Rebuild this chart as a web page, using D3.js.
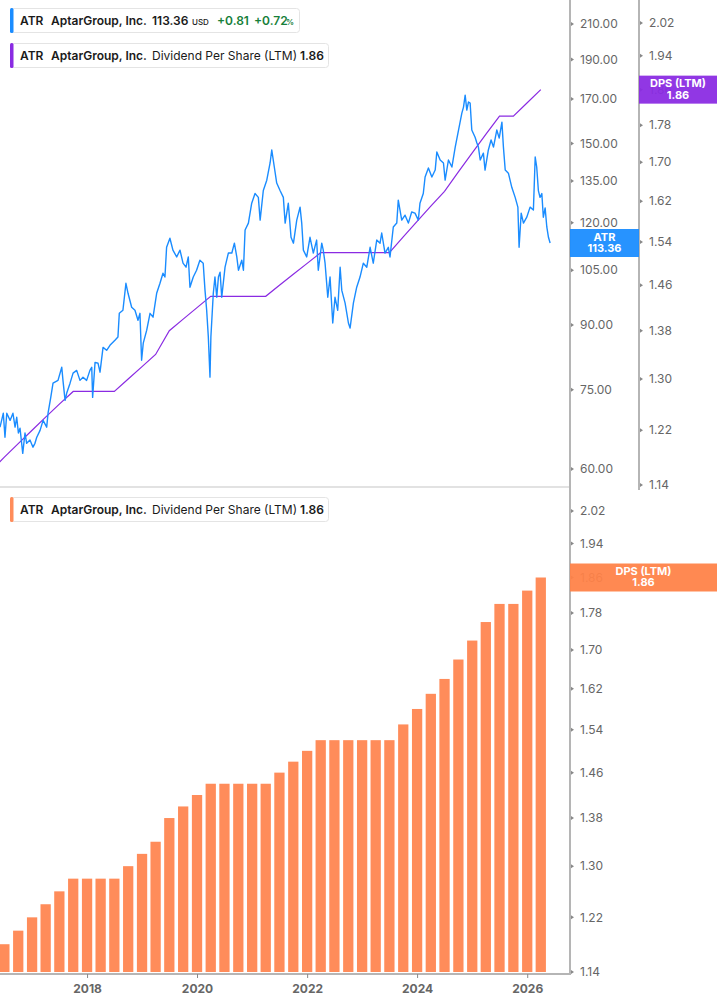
<!DOCTYPE html>
<html>
<head>
	<title>ATR price and dividend</title>
	<script src="https://d3js.org/d3.v7.min.js" charset="utf-8"></script>
	<style>
		body { margin: 0; background: #fff; }
		text { font-family: Inter, "Noto Sans", sans-serif; }
	</style>
</head>
<body>
	<svg width="717" height="1005"></svg>
	<script>
		// ATR daily-ish closes
		const priceDates = [
			'2016-06-02','2016-06-24','2016-07-05','2016-07-17','2016-08-08','2016-08-27','2016-09-10','2016-09-21','2016-10-02','2016-10-13',
			'2016-10-31','2016-11-15','2016-11-26','2016-12-18','2017-01-07','2017-01-20','2017-02-01','2017-02-23','2017-03-15','2017-04-08',
			'2017-04-17','2017-05-05','2017-05-20','2017-06-22','2017-07-17','2017-07-25','2017-08-08','2017-08-19','2017-09-10','2017-09-30',
			'2017-10-24','2017-11-15','2017-12-05','2017-12-29','2018-01-20','2018-02-01','2018-02-07','2018-02-23','2018-03-15','2018-03-28',
			'2018-04-17','2018-05-11','2018-06-02','2018-07-05','2018-07-25','2018-08-03','2018-08-27','2018-09-16','2018-09-30','2018-10-24',
			'2018-11-15','2018-12-05','2018-12-18','2018-12-29','2019-01-09','2019-02-01','2019-02-23','2019-03-15','2019-04-08','2019-04-30',
			'2019-05-20','2019-06-02','2019-06-13','2019-07-05','2019-07-25','2019-08-19','2019-09-10','2019-09-30','2019-10-20','2019-11-04',
			'2019-11-15','2019-12-07','2019-12-29','2020-01-20','2020-02-11','2020-02-23','2020-03-05','2020-03-16','2020-03-27','2020-04-02',
			'2020-04-18','2020-04-29','2020-05-11','2020-05-22','2020-06-02','2020-06-13','2020-07-05','2020-07-27','2020-08-19','2020-09-05',
			'2020-09-21','2020-10-02','2020-10-24','2020-11-04','2020-11-15','2020-12-07','2020-12-29','2021-01-20','2021-02-11','2021-02-23',
			'2021-03-16','2021-04-08','2021-04-30','2021-05-11','2021-05-28','2021-06-13','2021-07-05','2021-07-27','2021-08-08','2021-08-29',
			'2021-09-16','2021-10-02','2021-10-24','2021-11-15','2021-11-26','2021-12-07','2021-12-29','2022-01-20','2022-02-11','2022-03-05',
			'2022-03-16','2022-04-08','2022-04-18','2022-04-30','2022-05-18','2022-06-02','2022-06-20','2022-07-05','2022-07-23','2022-08-08',
			'2022-08-19','2022-09-10','2022-10-02','2022-10-13','2022-11-04','2022-11-26','2022-12-18','2023-01-09','2023-02-01','2023-02-23',
			'2023-03-16','2023-04-08','2023-04-30','2023-05-11','2023-06-02','2023-06-24','2023-07-05','2023-07-27','2023-08-19','2023-08-29',
			'2023-09-21','2023-10-13','2023-11-04','2023-11-26','2023-12-18','2024-01-09','2024-01-20','2024-02-11','2024-02-23','2024-03-16',
			'2024-04-08','2024-04-30','2024-05-11','2024-06-02','2024-06-24','2024-07-05','2024-07-27','2024-08-19','2024-09-10','2024-10-02',
			'2024-10-24','2024-11-04','2024-11-15','2024-11-26','2024-12-07','2024-12-18','2024-12-29','2025-01-20','2025-02-01','2025-02-11',
			'2025-02-23','2025-03-16','2025-03-27','2025-04-18','2025-05-06','2025-05-22','2025-06-13','2025-06-29','2025-07-17','2025-07-27',
			'2025-08-08','2025-08-29','2025-09-21','2025-10-13','2025-10-31','2025-11-08','2025-11-22','2025-12-07','2025-12-29','2026-01-20',
			'2026-02-11','2026-02-23','2026-03-05','2026-03-16','2026-03-27','2026-04-08','2026-04-18','2026-04-30','2026-05-11','2026-05-22',
			'2026-06-02'
		];
		const priceValues = [
			67.5, 70.2, 65.6, 70.2, 68.8, 70.2, 67.5, 69.4, 66.4, 67.3,
			62.7, 66.4, 64.5, 65.1, 63.8, 64.5, 65.6, 66.9, 68.8, 67.5,
			70.2, 73.4, 76.4, 77.0, 79.9, 77.0, 72.8, 74.3, 76.4, 78.6,
			79.2, 77.0, 77.7, 77.0, 79.2, 79.9, 73.4, 81.0, 80.8, 78.8,
			84.5, 83.8, 85.0, 86.2, 87.0, 93.0, 93.8, 101.2, 98.4, 94.6,
			93.8, 91.2, 93.0, 81.5, 85.5, 88.7, 93.0, 92.0, 98.4, 101.2,
			104.1, 103.0, 112.0, 114.9, 111.1, 109.0, 111.1, 107.1, 105.9, 109.0,
			100.1, 103.0, 105.0, 108.0, 107.1, 99.2, 93.8, 87.0, 77.7, 87.0,
			98.4, 103.0, 97.3, 103.0, 104.4, 97.3, 105.9, 110.2, 110.2, 113.3,
			109.0, 105.0, 108.0, 105.0, 117.6, 119.9, 126.8, 130.3, 128.9, 120.9,
			131.4, 135.3, 142.0, 147.3, 140.4, 134.2, 131.4, 128.9, 119.9, 126.8,
			115.2, 113.3, 120.9, 125.4, 119.9, 111.1, 109.0, 115.2, 110.2, 114.3,
			105.0, 113.3, 111.1, 107.1, 97.3, 103.0, 90.5, 97.3, 93.8, 105.9,
			99.2, 95.7, 90.5, 89.2, 95.7, 100.1, 103.0, 107.1, 105.9, 112.0,
			107.1, 114.3, 113.3, 116.6, 110.2, 112.0, 109.0, 118.6, 119.9, 127.9,
			120.9, 122.6, 119.9, 123.7, 123.3, 120.9, 126.8, 130.3, 136.5, 140.0,
			136.5, 139.2, 146.5, 143.2, 142.0, 135.3, 143.2, 140.4, 148.5, 155.8,
			163.4, 166.2, 171.9, 164.8, 168.6, 168.1, 155.8, 152.7, 150.2, 148.5,
			143.2, 146.0, 139.2, 147.3, 151.5, 148.5, 155.8, 152.3, 159.3, 148.5,
			139.2, 138.0, 132.5, 128.9, 125.4, 112.0, 123.3, 119.9, 121.9, 125.4,
			124.4, 144.4, 140.4, 131.4, 128.9, 130.3, 121.9, 125.1, 118.6, 115.2,
			113.36
		];

		// dividend per share, trailing twelve months, quarterly
		const dpsDates = [
			'2016-04-01','2016-07-01','2016-10-01','2017-01-01','2017-04-01','2017-07-01','2017-10-01',
			'2018-01-01','2018-04-01','2018-07-01','2018-10-01','2019-01-01','2019-04-01','2019-07-01','2019-10-01',
			'2020-01-01','2020-04-01','2020-07-01','2020-10-01','2021-01-01','2021-04-01','2021-07-01','2021-10-01',
			'2022-01-01','2022-04-01','2022-07-01','2022-10-01','2023-01-01','2023-04-01','2023-07-01','2023-10-01',
			'2024-01-01','2024-04-01','2024-07-01','2024-10-01','2025-01-01','2025-04-01','2025-07-01','2025-10-01',
			'2026-01-01','2026-04-01'
		];
		const dpsValues = [
			1.16, 1.18, 1.20, 1.22, 1.24, 1.26, 1.28,
			1.28, 1.28, 1.28, 1.30, 1.32, 1.34, 1.38, 1.40,
			1.42, 1.44, 1.44, 1.44, 1.44, 1.44, 1.46, 1.48,
			1.50, 1.52, 1.52, 1.52, 1.52, 1.52, 1.52, 1.55,
			1.58, 1.61, 1.64, 1.68, 1.72, 1.76, 1.80, 1.80,
			1.83, 1.86
		];

		const priceTicks = [60, 75, 90, 105, 120, 135, 150, 170, 190, 210];
		const dpsTicks = [1.14, 1.22, 1.30, 1.38, 1.46, 1.54, 1.62, 1.70, 1.78, 1.86, 1.94, 2.02];
		const yearTicks = ['2018', '2020', '2022', '2024', '2026'];

		const lastPrice = 113.36;
		const lastDps = 1.86;

		const plotW = 570;
		const axisGrey = '#b5b5b5';
		const labelGrey = '#666';
		const blue = '#1a8cff';
		const purple = '#8a2be2';
		const orange = '#ff8c5a';

		const parse = d3.utcParse('%Y-%m-%d');
		const prices = priceDates.map((d, i) => ({ date: parse(d), value: priceValues[i] }));
		const dps = dpsDates.map((d, i) => ({ date: parse(d), value: dpsValues[i] }));

		var svg = d3.select('svg');

		const x = d3.scaleUtc()
			.domain([parse('2016-06-02'), parse('2026-10-12')])
			.range([0, plotW]);

		// top panel scales (log)
		const yPrice = d3.scaleLog().domain([60, 210]).range([469, 24]);
		const yDpsTop = d3.scaleLog().domain([1.14, 2.02]).range([485, 23]);
		// bottom panel
		const yDpsBot = d3.scaleLog().domain([1.14, 2.02]).range([972, 511]);

		const defs = svg.append('defs');
		defs.append('clipPath').attr('id', 'clipTop')
			.append('rect').attr('x', 0).attr('y', 0).attr('width', plotW).attr('height', 486);
		defs.append('clipPath').attr('id', 'clipBot')
			.append('rect').attr('x', 0).attr('y', 488).attr('width', plotW).attr('height', 486);

		// ---- bottom panel bars ----
		const barW = (x(parse('2020-04-01')) - x(parse('2020-01-01'))) * 0.75;
		svg.append('g').attr('clip-path', 'url(#clipBot)')
			.selectAll('rect')
			.data(dps)
			.enter()
			.append('rect')
			.attr('x', d => x(d.date) - barW / 2)
			.attr('y', d => yDpsBot(d.value))
			.attr('width', barW)
			.attr('height', d => yDpsBot(1.14) - yDpsBot(d.value))
			.style('fill', orange);

		// ---- top panel lines ----
		const topG = svg.append('g').attr('clip-path', 'url(#clipTop)');

		topG.append('path')
			.datum(dps)
			.attr('fill', 'none')
			.attr('stroke', purple)
			.attr('stroke-width', 1.2)
			.attr('d', d3.line().x(d => x(d.date)).y(d => yDpsTop(d.value)));

		topG.append('path')
			.datum(prices)
			.attr('fill', 'none')
			.attr('stroke', blue)
			.attr('stroke-width', 1.4)
			.attr('stroke-linejoin', 'round')
			.attr('d', d3.line().x(d => x(d.date)).y(d => yPrice(d.value)));

		// panel separator
		svg.append('line')
			.attr('x1', 0).attr('x2', plotW).attr('y1', 487).attr('y2', 487)
			.attr('stroke', '#e2e2e2').attr('stroke-width', 2);

		// ---- y axes ----
		function tickMark(g, xPos, y) {
			g.append('path')
				.attr('d', `M${xPos + 1},${y - 2}L${xPos + 4},${y}L${xPos + 1},${y + 2}Z`)
				.attr('fill', '#888');
		}

		// price axis
		svg.append('line').attr('x1', 570).attr('x2', 570).attr('y1', 0).attr('y2', 975)
			.attr('stroke', axisGrey).attr('stroke-width', 2);
		const pAx = svg.append('g');
		priceTicks.forEach(t => {
			tickMark(pAx, 570, yPrice(t));
			pAx.append('text').attr('x', 580).attr('y', yPrice(t)).attr('dy', '0.35em')
				.attr('font-size', 12).attr('fill', labelGrey).text(d3.format('.2f')(t));
		});

		// dps axis top
		svg.append('line').attr('x1', 639).attr('x2', 639).attr('y1', 0).attr('y2', 490)
			.attr('stroke', axisGrey).attr('stroke-width', 2);
		const dAx = svg.append('g');
		dpsTicks.forEach(t => {
			tickMark(dAx, 639, yDpsTop(t));
			dAx.append('text').attr('x', 649).attr('y', yDpsTop(t)).attr('dy', '0.35em')
				.attr('font-size', 12).attr('fill', labelGrey).text(d3.format('.2f')(t));
		});

		// dps axis bottom
		const bAx = svg.append('g');
		dpsTicks.forEach(t => {
			tickMark(bAx, 570, yDpsBot(t));
			bAx.append('text').attr('x', 580).attr('y', yDpsBot(t)).attr('dy', '0.35em')
				.attr('font-size', 12).attr('fill', labelGrey).text(d3.format('.2f')(t));
		});

		// x axis
		svg.append('line').attr('x1', 0).attr('x2', 570).attr('y1', 974).attr('y2', 974)
			.attr('stroke', axisGrey).attr('stroke-width', 2);
		const xAxis = svg.append('g')
			.attr('transform', 'translate(0,974)')
			.call(d3.axisBottom(x)
				.tickValues(yearTicks.map(y => parse(y + '-01-01')))
				.tickFormat(d3.utcFormat('%Y'))
				.tickSize(4));
		xAxis.select('.domain').remove();
		xAxis.selectAll('line').attr('stroke', '#888');
		xAxis.selectAll('text')
			.attr('y', 10)
			.attr('font-family', 'Inter, sans-serif')
			.attr('font-size', 12).attr('font-weight', 700).attr('fill', labelGrey);

		// ---- value labels on axes ----
		function valueTag(x0, w, yc, color, l1, l2) {
			svg.append('rect').attr('x', x0).attr('y', yc - 14).attr('width', w).attr('height', 28)
				.attr('fill', color).attr('opacity', 0.94);
			svg.append('text').attr('x', x0 + w / 2).attr('y', yc - 2.5).attr('text-anchor', 'middle')
				.attr('font-size', 11).attr('font-weight', 700).attr('fill', '#fff').text(l1);
			svg.append('text').attr('x', x0 + w / 2).attr('y', yc + 9).attr('text-anchor', 'middle')
				.attr('font-size', 11).attr('font-weight', 700).attr('fill', '#fff').text(l2);
		}
		valueTag(570, 69, yPrice(lastPrice), blue, 'ATR', d3.format('.2f')(lastPrice));
		valueTag(639, 78, yDpsTop(lastDps), purple, 'DPS (LTM)', d3.format('.2f')(lastDps));
		valueTag(570, 147, yDpsBot(lastDps), '#ff8247', 'DPS (LTM)', d3.format('.2f')(lastDps));

		// ---- legends ----
		function legendBox(y, w, color) {
			const g = svg.append('g');
			g.append('rect').attr('x', 10.5).attr('y', y + 0.5).attr('width', w).attr('height', 24)
				.attr('rx', 3).attr('fill', '#fff').attr('stroke', '#e4e4e4');
			g.append('rect').attr('x', 10).attr('y', y).attr('width', 3.5).attr('height', 25)
				.attr('rx', 1.5).attr('fill', color);
			return g;
		}
		function txt(g, xPos, y, s, opts) {
			opts = opts || {};
			return g.append('text').attr('x', xPos).attr('y', y)
				.attr('font-size', opts.size || 12)
				.attr('font-weight', opts.weight || 600)
				.attr('fill', opts.fill || '#1a1a1a')
				.text(s);
		}

		const lg1 = legendBox(8, 289, blue);
		txt(lg1, 20, 25, 'ATR');
		txt(lg1, 51, 25, 'AptarGroup, Inc.');
		txt(lg1, 152, 25, '113.36');
		txt(lg1, 192, 25, 'USD', { size: 8, weight: 500 });
		txt(lg1, 217, 25, '+0.81', { fill: '#177f3a' });
		txt(lg1, 254, 25, '+0.72', { fill: '#177f3a' });
		txt(lg1, 286, 25, '%', { size: 8, fill: '#177f3a' });

		[[43, purple], [497, orange]].forEach(([y, c]) => {
			const g = legendBox(y, 318, c);
			txt(g, 20, y + 16.5, 'ATR');
			txt(g, 51, y + 16.5, 'AptarGroup, Inc.');
			txt(g, 152, y + 16.5, 'Dividend Per Share (LTM)', { weight: 400 });
			txt(g, 300, y + 16.5, '1.86');
		});
	</script>
</body>
</html>
